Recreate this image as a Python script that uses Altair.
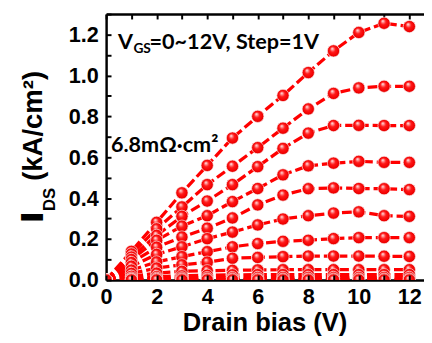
import altair as alt
import pandas as pd

# ---------------- data ----------------
drain_bias = [0, 1, 2, 3, 4, 5, 6, 7, 8, 9, 10, 11, 12]

vgs_12 = [0, 0.140, 0.282, 0.426, 0.560, 0.694, 0.800, 0.902, 1.014, 1.120, 1.210, 1.255, 1.239]
vgs_11 = [0, 0.127, 0.250, 0.357, 0.466, 0.556, 0.647, 0.742, 0.836, 0.912, 0.939, 0.947, 0.947]
vgs_10 = [0, 0.112, 0.218, 0.311, 0.386, 0.466, 0.554, 0.643, 0.718, 0.755, 0.756, 0.755, 0.755]
vgs_9 = [0, 0.100, 0.194, 0.263, 0.314, 0.383, 0.447, 0.514, 0.558, 0.571, 0.580, 0.575, 0.575]
vgs_8 = [0, 0.085, 0.160, 0.210, 0.253, 0.303, 0.367, 0.415, 0.446, 0.450, 0.447, 0.446, 0.442]
vgs_7 = [0, 0.067, 0.125, 0.162, 0.202, 0.234, 0.269, 0.298, 0.314, 0.327, 0.333, 0.314, 0.311]
vgs_6 = [0, 0.048, 0.088, 0.114, 0.138, 0.162, 0.178, 0.189, 0.194, 0.202, 0.207, 0.207, 0.207]
vgs_5 = [0, 0.032, 0.058, 0.074, 0.087, 0.106, 0.110, 0.114, 0.117, 0.117, 0.117, 0.116, 0.115]
vgs_4 = [0, 0.018, 0.033, 0.042, 0.045, 0.047, 0.049, 0.050, 0.050, 0.050, 0.050, 0.050, 0.050]
vgs_3 = [0, 0.009, 0.016, 0.020, 0.023, 0.025, 0.026, 0.026, 0.026, 0.026, 0.026, 0.026, 0.026]
vgs_2 = [0, 0.004, 0.008, 0.010, 0.011, 0.011, 0.012, 0.012, 0.012, 0.012, 0.012, 0.012, 0.012]
vgs_1 = [0, 0.001, 0.003, 0.004, 0.004, 0.004, 0.004, 0.004, 0.004, 0.004, 0.004, 0.004, 0.004]
vgs_0 = [0, 0, 0, 0, 0, 0, 0, 0, 0, 0, 0, 0, 0]

x_labels = [0, 2, 4, 6, 8, 10, 12]
x_minor = [0, 1, 2, 3, 4, 5, 6, 7, 8, 9, 10, 11, 12]
y_labels = [0.0, 0.2, 0.4, 0.6, 0.8, 1.0, 1.2]
y_minor = [0.0, 0.1, 0.2, 0.3, 0.4, 0.5, 0.6, 0.7, 0.8, 0.9, 1.0, 1.1, 1.2, 1.3]

# in-plot annotations
ann_text = ["V", "GS", "=0~12V, Step=1V", "6.8mΩ·cm²"]
ann_x = [0.47, 1.08, 1.72, 0.19]
ann_y = [1.129, 1.110, 1.129, 0.628]
ann_fs = [22, 14, 22, 22]

# ---------------- tables ----------------
series = [("12", vgs_12), ("11", vgs_11), ("10", vgs_10), ("9", vgs_9), ("8", vgs_8),
          ("7", vgs_7), ("6", vgs_6), ("5", vgs_5), ("4", vgs_4), ("3", vgs_3),
          ("2", vgs_2), ("1", vgs_1), ("0", vgs_0)]
rows = []
for name, vals in series:
    for xv, yv in zip(drain_bias, vals):
        rows.append({"vgs": name, "x": xv, "y": yv})
df = pd.DataFrame(rows)

ann = pd.DataFrame({"x": ann_x, "y": ann_y, "t": ann_text, "fs": ann_fs})

W, H = 324, 271
xs = alt.Scale(domain=[0, 12.58], nice=False, zero=False)
ys = alt.Scale(domain=[0, 1.3], nice=False, zero=False)
AX_FONT = "Liberation Sans"

# layer 1: dashed lines + labelled axes
lines = alt.Chart(df).mark_line(
    color="#ff0000", strokeWidth=3.3, strokeDash=[10, 4], clip=True
).encode(
    x=alt.X("x:Q", scale=xs, axis=alt.Axis(
        values=x_labels, tickSize=0, labelFont=AX_FONT, labelFontSize=22,
        labelFontWeight="bold", labelColor="black", labelPadding=7,
        domainColor="black", domainWidth=2.5, grid=False, title=None,
        labelFlush=False, orient="bottom")),
    y=alt.Y("y:Q", scale=ys, axis=alt.Axis(
        values=y_labels, format=".1f", tickSize=0, labelFont=AX_FONT,
        labelFontSize=22, labelFontWeight="bold", labelColor="black",
        labelPadding=8, domainColor="black", domainWidth=2.5, grid=False,
        title=None, labelFlush=False, orient="left")),
    detail="vgs:N",
)

ball_fill = {
    "gradient": "radial", "x1": 0.38, "y1": 0.3, "r1": 0.0,
    "x2": 0.5, "y2": 0.5, "r2": 0.5,
    "stops": [
        {"offset": 0.0, "color": "#ffffff"},
        {"offset": 0.18, "color": "#ff9a9a"},
        {"offset": 0.45, "color": "#ff1a1a"},
        {"offset": 0.85, "color": "#f20000"},
        {"offset": 1.0, "color": "#d00000"},
    ],
}

# layer 2: spheres + inward ticks on bottom / left
points = alt.Chart(df).mark_circle(
    size=156, fill=ball_fill, stroke="#ffe6e6", strokeWidth=0.7, opacity=1, clip=True
).encode(
    x=alt.X("x:Q", scale=xs, axis=alt.Axis(
        orient="top", offset=-H, values=x_minor, tickSize=5, tickWidth=2,
        tickColor="black", labels=False, domain=False, grid=False, title=None, zindex=1)),
    y=alt.Y("y:Q", scale=ys, axis=alt.Axis(
        orient="right", offset=-W, values=y_minor, tickSize=5, tickWidth=2,
        tickColor="black", labels=False, domain=False, grid=False, title=None, zindex=1)),
)

# layer 3: annotations + top border with inward ticks
notes = alt.Chart(ann).mark_text(
    align="left", baseline="alphabetic", font="Lato", fontWeight="bold", color="black"
).encode(
    x=alt.X("x:Q", scale=xs, axis=alt.Axis(
        orient="bottom", offset=-H, values=x_minor, tickSize=5, tickWidth=2,
        tickColor="black", labels=False, domain=True, domainColor="black",
        domainWidth=2.5, grid=False, title=None)),
    y=alt.Y("y:Q", scale=ys, axis=None),
    text="t:N",
    size=alt.Size("fs:Q", scale=None, legend=None),
)

one = alt.Data(values=[{}])
x_title = alt.Chart(one).mark_text(
    font=AX_FONT, fontSize=26, fontWeight="bold", align="center", baseline="alphabetic", color="black"
).encode(x=alt.value(162), y=alt.value(323), text=alt.value("Drain bias (V)"))

y_title_main = alt.Chart(one).mark_text(
    font=AX_FONT, fontSize=28, fontWeight="bold", align="center", baseline="alphabetic",
    angle=270, color="black"
).encode(x=alt.value(-65), y=alt.value(114), text=alt.value("(kA/cm²)"))

y_title_i = alt.Chart(one).mark_text(
    font=AX_FONT, fontSize=31, fontWeight="bold", align="center", baseline="alphabetic",
    angle=270, color="black", stroke="black", strokeWidth=2
).encode(x=alt.value(-65), y=alt.value(207), text=alt.value("I"))

y_title_ds = alt.Chart(one).mark_text(
    font=AX_FONT, fontSize=17, fontWeight="bold", align="center", baseline="alphabetic",
    angle=270, color="black"
).encode(x=alt.value(-52), y=alt.value(189), text=alt.value("DS"))

chart = alt.layer(
    lines, points, notes, x_title, y_title_main, y_title_i, y_title_ds
).resolve_axis(
    x="independent", y="independent"
).properties(
    width=W, height=H,
    padding={"left": 100, "top": 3, "right": 0, "bottom": 57},
    autosize=alt.AutoSizeParams(type="none"),
).configure_view(stroke=None)

chart.save("out.html", embed_options={"renderer": "svg", "actions": False})
